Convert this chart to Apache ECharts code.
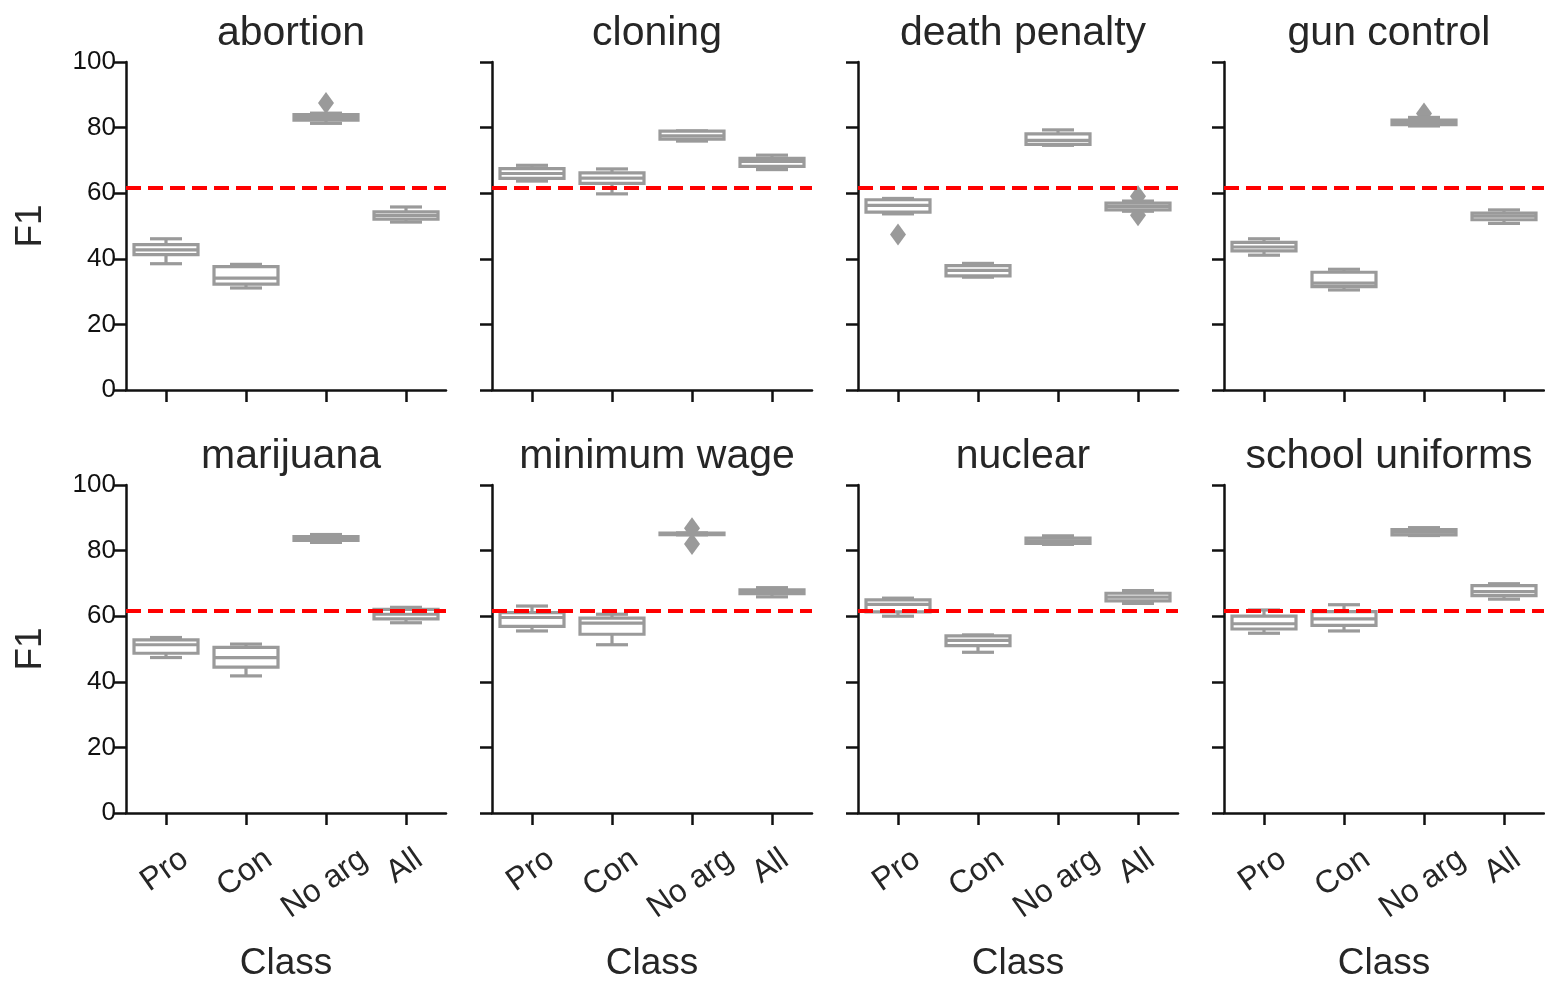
<html>
<head>
  <meta charset="utf-8">
  <title>F1 per class and topic</title>
  <script src="https://cdn.jsdelivr.net/npm/echarts@6/dist/echarts.min.js"></script>
</head>
<body style="margin:0;background:#fff">
  <div id="chart" style="width:1545px;height:981px;"></div>
  <script>
    // categories and panels
    const classes = ['Pro', 'Con', 'No arg', 'All'];
    const topics = ['abortion', 'cloning', 'death penalty', 'gun control',
      'marijuana', 'minimum wage', 'nuclear', 'school uniforms'];
    const yTicks = [0, 20, 40, 60, 80, 100];
    const baseline = 61.8;

    // box stats per class: [lower whisker, q1, median, q3, upper whisker]
    const abortion = [[38.5, 41.3, 42.7, 44.3, 46.1], [31.1, 32.3, 34.1, 37.6, 38.3], [81.3, 82.3, 83.1, 84.0, 84.4], [51.2, 52.1, 53.2, 54.3, 55.8]];
    const cloning = [[63.7, 64.5, 66.0, 67.5, 68.5], [59.8, 63.0, 64.6, 66.2, 67.4], [75.9, 76.5, 77.5, 78.9, 79.0], [67.2, 68.2, 69.7, 70.6, 71.6]];
    const deathPenalty = [[53.7, 54.2, 56.3, 58.0, 58.4], [34.4, 34.8, 36.5, 37.9, 38.6], [74.6, 74.9, 76.1, 78.1, 79.3], [54.5, 54.9, 56.0, 57.0, 57.6]];
    const gunControl = [[41.1, 42.4, 43.6, 45.0, 46.1], [30.5, 31.5, 32.6, 35.9, 36.8], [80.5, 80.9, 81.6, 82.3, 83.1], [50.8, 51.9, 53.0, 53.9, 54.9]];
    const marijuana = [[47.4, 48.7, 51.3, 52.8, 53.5], [41.8, 44.5, 47.4, 50.5, 51.5], [82.5, 83.1, 83.7, 84.3, 84.9], [58.0, 59.2, 60.6, 62.1, 62.7]];
    const minimumWage = [[55.5, 56.9, 59.6, 61.1, 63.1], [51.3, 54.5, 57.9, 59.4, 60.6], [84.8, 84.9, 85.1, 85.3, 85.4], [65.9, 66.9, 67.4, 68.0, 68.7]];
    const nuclear = [[60.0, 61.3, 63.6, 65.0, 65.5], [49.0, 51.0, 52.6, 54.0, 54.3], [81.9, 82.2, 83.0, 83.8, 84.5], [63.9, 64.7, 65.8, 67.0, 67.8]];
    const schoolUniforms = [[54.8, 56.1, 57.7, 60.0, 61.9], [55.5, 57.2, 59.2, 61.4, 63.5], [84.6, 84.8, 85.6, 86.4, 87.0], [65.2, 66.3, 67.5, 69.3, 69.9]];
    const boxes = [abortion, cloning, deathPenalty, gunControl, marijuana, minimumWage, nuclear, schoolUniforms];

    // outliers per panel: [class index, value]
    const outAbortion = [[2, 87.5]];
    const outCloning = [];
    const outDeathPenalty = [[0, 47.4], [3, 59.1], [3, 53.3]];
    const outGunControl = [[2, 84.3]];
    const outMarijuana = [];
    const outMinimumWage = [[2, 86.8], [2, 82.0]];
    const outNuclear = [];
    const outSchoolUniforms = [];
    const outliers = [outAbortion, outCloning, outDeathPenalty, outGunControl,
      outMarijuana, outMinimumWage, outNuclear, outSchoolUniforms];

    const font = '"Liberation Sans", Arial, sans-serif';
    const ink = '#262626';
    const boxColor = '#9a9a9a';
    const lefts = [126, 492, 858, 1224];
    const tops = [62, 485];
    const gw = 320, gh = 328;

    // rotated class labels, centred under the tick with their rotated boxes
    // top-aligned (like matplotlib ha='center'); done with per-label padding
    const labelSize = 32, rot = 35;
    const ctx = document.createElement('canvas').getContext('2d');
    ctx.font = labelSize + 'px ' + font;
    const th = rot * Math.PI / 180;
    const lh = labelSize * 1.15;
    const classData = classes.map(function (c) {
      const L = ctx.measureText(c).width;
      const E = (L * Math.sin(th) + lh * Math.cos(th)) / 2;
      return {
        value: c,
        textStyle: {
          align: 'center', verticalAlign: 'top',
          fontFamily: font, fontSize: labelSize, color: ink,
          padding: [Math.max(0, E * Math.cos(th) - lh / 2), 2 * E * Math.sin(th), 0, 0]
        }
      };
    });

    function renderBox(params, api) {
      const x = api.value(0);
      const band = api.size([1, 0])[0];
      const bw = band * 0.8, cw = band * 0.4;
      const cx = api.coord([x, 0])[0];
      const y = function (i) { return api.coord([x, api.value(i)])[1]; };
      const lo = y(1), q1 = y(2), md = y(3), q3 = y(4), hi = y(5);
      const st = { stroke: boxColor, lineWidth: 3.2, fill: null };
      return {
        type: 'group',
        children: [
          { type: 'line', shape: { x1: cx, y1: q3, x2: cx, y2: hi }, style: st },
          { type: 'line', shape: { x1: cx, y1: q1, x2: cx, y2: lo }, style: st },
          { type: 'line', shape: { x1: cx - cw / 2, y1: hi, x2: cx + cw / 2, y2: hi }, style: st },
          { type: 'line', shape: { x1: cx - cw / 2, y1: lo, x2: cx + cw / 2, y2: lo }, style: st },
          { type: 'rect', shape: { x: cx - bw / 2, y: q3, width: bw, height: q1 - q3 },
            style: { fill: '#fff', stroke: boxColor, lineWidth: 3.2 } },
          { type: 'line', shape: { x1: cx - bw / 2, y1: md, x2: cx + bw / 2, y2: md }, style: st }
        ]
      };
    }

    const grid = [], xAxis = [], yAxis = [], title = [], series = [];
    topics.forEach(function (t, i) {
      const col = i % 4, row = Math.floor(i / 4);
      grid.push({ left: lefts[col], top: tops[row], width: gw, height: gh, outerBoundsMode: 'none' });
      title.push({
        text: t, left: lefts[col] + gw / 2, top: tops[row] - 54, textAlign: 'center',
        textStyle: { fontFamily: font, fontSize: 41, fontWeight: 'normal', color: ink }
      });
      xAxis.push({
        gridIndex: i, type: 'category', data: classData, boundaryGap: true,
        name: row === 1 ? 'Class' : '', nameLocation: 'middle', nameGap: 132,
        nameTextStyle: { fontFamily: font, fontSize: 37, color: ink },
        axisLine: { show: true, lineStyle: { color: '#111', width: 2.5 } },
        axisTick: { show: true, alignWithLabel: true, interval: 0, length: 12, lineStyle: { color: '#111', width: 2.5 } },
        axisLabel: {
          show: row === 1, interval: 0, rotate: rot, margin: 30,
          fontFamily: font, fontSize: labelSize, color: ink
        },
        splitLine: { show: false }
      });
      yAxis.push({
        gridIndex: i, type: 'value', min: yTicks[0], max: yTicks[yTicks.length - 1], interval: 20,
        name: col === 0 ? 'F1' : '', nameLocation: 'middle', nameGap: 77,
        nameTextStyle: { fontFamily: font, fontSize: 37, color: ink },
        axisLine: { show: true, lineStyle: { color: '#111', width: 2.5 } },
        axisTick: { show: true, length: 12, lineStyle: { color: '#111', width: 2.5 } },
        axisLabel: { show: col === 0, margin: 10, fontFamily: font, fontSize: 26, color: '#111' },
        splitLine: { show: false }
      });
      series.push({
        type: 'custom', xAxisIndex: i, yAxisIndex: i,
        renderItem: renderBox,
        encode: { x: 0, y: [1, 2, 3, 4, 5] },
        data: boxes[i].map(function (b, k) { return [k].concat(b); }),
        markLine: {
          silent: true, symbol: ['none', 'none'], label: { show: false },
          lineStyle: { color: '#ff0000', width: 4, type: [15, 7] },
          data: [{ yAxis: baseline }]
        },
        z: 2
      });
      series.push({
        type: 'scatter', xAxisIndex: i, yAxisIndex: i,
        symbol: 'diamond', symbolSize: [16, 22],
        itemStyle: { color: boxColor, opacity: 1 },
        data: outliers[i], z: 1
      });
    });

    const chart = echarts.init(document.getElementById('chart'));
    chart.setOption({
      animation: false,
      backgroundColor: '#fff',
      title: title, grid: grid, xAxis: xAxis, yAxis: yAxis, series: series
    });
  </script>
</body>
</html>
